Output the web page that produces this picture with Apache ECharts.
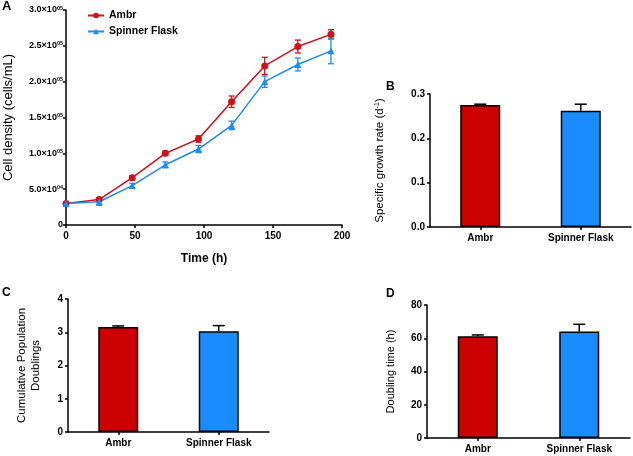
<!DOCTYPE html>
<html>
<head>
<meta charset="utf-8">
<script src="https://cdn.jsdelivr.net/npm/echarts@6/dist/echarts.min.js"></script>
<style>html,body{margin:0;padding:0;background:#fff;}#c{width:633px;height:456px;}</style>
</head>
<body>
<div id="c"></div>
<script>
// Panel A data
const timeH = [0, 24, 48, 72, 96, 120, 144, 168, 192];
const ambrDensity = [30000, 35500, 66000, 100000, 120000, 172000, 222000, 249000, 266000];
const ambrDensityErr = [1000, 1500, 3000, 3000, 4500, 8000, 12000, 9000, 6500];
const spinnerDensity = [30000, 32500, 55000, 84000, 106000, 139000, 200000, 224000, 243000];
const spinnerDensityErr = [1000, 5000, 3000, 4000, 5000, 6000, 8000, 9000, 18000];
const densityTicks = [0, 50000, 100000, 150000, 200000, 250000, 300000];
// Bar panels
const groups = ['Ambr', 'Spinner Flask'];
const growthRate = [0.275, 0.262];
const growthRateErr = [0.002, 0.015];
const popDoublings = [3.16, 3.03];
const popDoublingsErr = [0.03, 0.17];
const doublingTime = [61.2, 64.0];
const doublingTimeErr = [0.8, 4.4];

const RED = '#d0101a', BLUE = '#1e8cf0';
const BAR_RED = '#cc0000', BAR_BLUE = '#1a8cff';
const FONT = 'Liberation Sans, Arial, sans-serif';

function sciLabel(v) {
  if (v === 0) return '0';
  const e = Math.floor(Math.log10(v));
  const m = v / Math.pow(10, e);
  return '{m|' + m.toFixed(1) + '×10}{s|' + String(e).padStart(2, '0') + '}';
}

const axisLine = {show: true, lineStyle: {color: '#000', width: 1.5}};
const axisTick = {show: true, length: 3, lineStyle: {color: '#000', width: 1.5}};
const tickFont = {color: '#000', fontFamily: FONT, fontWeight: 'bold', fontSize: 10};
const titleFont = {color: '#000', fontFamily: FONT, fontSize: 11};

function lineErr(vals, errs, color, xi, yi) {
  return {
    type: 'custom', xAxisIndex: xi, yAxisIndex: yi, z: 3,
    data: timeH.map((t, i) => [t, vals[i], errs[i]]),
    renderItem: function (params, api) {
      const x = api.value(0), y = api.value(1), e = api.value(2);
      const top = api.coord([x, y + e]);
      const bot = api.coord([x, y - e]);
      const h = 3;
      const st = {stroke: color, lineWidth: 1.3};
      return {type: 'group', children: [
        {type: 'line', shape: {x1: top[0], y1: top[1], x2: bot[0], y2: bot[1]}, style: st},
        {type: 'line', shape: {x1: top[0] - h, y1: top[1], x2: top[0] + h, y2: top[1]}, style: st},
        {type: 'line', shape: {x1: bot[0] - h, y1: bot[1], x2: bot[0] + h, y2: bot[1]}, style: st}
      ]};
    }
  };
}

function barErr(vals, errs, xi, yi) {
  return {
    type: 'custom', xAxisIndex: xi, yAxisIndex: yi, z: 4,
    data: vals.map((v, i) => [i, v, errs[i]]),
    renderItem: function (params, api) {
      const x = api.value(0), y = api.value(1), e = api.value(2);
      const top = api.coord([x, y + e]);
      const base = api.coord([x, y]);
      const h = 6;
      const st = {stroke: '#000', lineWidth: 1.5};
      return {type: 'group', children: [
        {type: 'line', shape: {x1: base[0], y1: base[1], x2: top[0], y2: top[1]}, style: st},
        {type: 'line', shape: {x1: top[0] - h, y1: top[1], x2: top[0] + h, y2: top[1]}, style: st}
      ]};
    }
  };
}

function barSeries(vals, xi, yi) {
  return {
    type: 'bar', xAxisIndex: xi, yAxisIndex: yi, barWidth: 40, z: 2,
    data: vals.map((v, i) => ({value: v, itemStyle: {color: i === 0 ? BAR_RED : BAR_BLUE}})),
    itemStyle: {borderColor: '#000', borderWidth: 1.5}
  };
}

function catAxis(gi) {
  return {
    type: 'category', gridIndex: gi, data: groups,
    axisLine: axisLine, axisTick: {show: true, alignWithLabel: true, length: 3, lineStyle: {color: '#000', width: 1.5}},
    axisLabel: Object.assign({margin: 6, fontSize: 10.5}, tickFont)
  };
}

function valAxis(gi, min, max, interval, name, gap, dec, rich, fs) {
  const o = {
    type: 'value', gridIndex: gi, min: min, max: max, interval: interval,
    splitLine: {show: false}, axisLine: axisLine, axisTick: axisTick,
    axisLabel: Object.assign({margin: 5, formatter: v => dec == null ? String(v) : v.toFixed(dec)}, tickFont),
    name: name, nameLocation: 'middle', nameGap: gap, nameRotate: 90,
    nameTextStyle: Object.assign({}, titleFont, {fontSize: fs || 11, lineHeight: 14})
  };
  if (rich) o.nameTextStyle.rich = rich;
  return o;
}

const chart = echarts.init(document.getElementById('c'));
chart.setOption({
  animation: false,
  backgroundColor: '#fff',
  textStyle: {fontFamily: FONT},
  grid: [
    {left: 66, top: 10, width: 276, height: 215},
    {left: 430, top: 94, width: 201, height: 133},
    {left: 68, top: 299, width: 201, height: 133},
    {left: 427, top: 305, width: 203, height: 133}
  ],
  legend: {
    left: 82, top: 5, orient: 'vertical', itemWidth: 16, itemHeight: 7, itemGap: 5,
    textStyle: {fontFamily: FONT, fontWeight: 'bold', fontSize: 10.5, color: '#000'},
    data: ['Ambr', 'Spinner Flask']
  },
  xAxis: [
    {type: 'value', gridIndex: 0, min: 0, max: 200, interval: 50,
     splitLine: {show: false}, axisLine: axisLine, axisTick: axisTick,
     axisLabel: Object.assign({margin: 6}, tickFont),
     name: 'Time (h)', nameLocation: 'middle', nameGap: 28,
     nameTextStyle: {color: '#000', fontFamily: FONT, fontWeight: 'bold', fontSize: 12}},
    catAxis(1), catAxis(2), catAxis(3)
  ],
  yAxis: [
    {type: 'value', gridIndex: 0, min: 0, max: 300000, interval: 50000,
     splitLine: {show: false}, axisLine: axisLine, axisTick: axisTick,
     axisLabel: {margin: 3, formatter: sciLabel, color: '#000', fontFamily: FONT, fontWeight: 'bold', fontSize: 9,
       rich: {m: {fontFamily: FONT, fontWeight: 'bold', fontSize: 9, color: '#000', lineHeight: 10},
              s: {fontFamily: FONT, fontWeight: 'bold', fontSize: 5.5, color: '#000', lineHeight: 6, verticalAlign: 'top'}}},
     name: 'Cell density (cells/mL)', nameLocation: 'middle', nameGap: 51, nameRotate: 90,
     nameTextStyle: {color: '#000', fontFamily: FONT, fontSize: 13}},
    valAxis(1, 0, 0.3, 0.1, '{a|Specific growth rate (d}{s|-1}{a|)}', 44, 1,
      {a: {fontFamily: FONT, fontSize: 11.5, color: '#000', lineHeight: 12},
       s: {fontFamily: FONT, fontSize: 7, color: '#000', lineHeight: 7, verticalAlign: 'top'}}, 11.5),
    valAxis(2, 0, 4, 1, 'Cumulative Population\nDoublings', 25, null, null, 11.5),
    valAxis(3, 0, 80, 20, 'Doubling time (h)', 29, null)
  ],
  series: [
    {name: 'Ambr', type: 'line', xAxisIndex: 0, yAxisIndex: 0, z: 5,
     data: timeH.map((t, i) => [t, ambrDensity[i]]),
     symbol: 'circle', symbolSize: 7, color: RED,
     lineStyle: {color: RED, width: 1.5}, itemStyle: {color: RED}},
    {name: 'Spinner Flask', type: 'line', xAxisIndex: 0, yAxisIndex: 0, z: 5,
     data: timeH.map((t, i) => [t, spinnerDensity[i]]),
     symbol: 'triangle', symbolSize: 7, color: BLUE,
     lineStyle: {color: BLUE, width: 1.5}, itemStyle: {color: BLUE}},
    lineErr(ambrDensity, ambrDensityErr, RED, 0, 0),
    lineErr(spinnerDensity, spinnerDensityErr, BLUE, 0, 0),
    barSeries(growthRate, 1, 1), barErr(growthRate, growthRateErr, 1, 1),
    barSeries(popDoublings, 2, 2), barErr(popDoublings, popDoublingsErr, 2, 2),
    barSeries(doublingTime, 3, 3), barErr(doublingTime, doublingTimeErr, 3, 3)
  ],
  graphic: [
    {type: 'text', left: 2, top: 0, style: {text: 'A', fontFamily: FONT, fontWeight: 'bold', fontSize: 13, fill: '#000'}},
    {type: 'text', left: 386, top: 81, style: {text: 'B', fontFamily: FONT, fontWeight: 'bold', fontSize: 12, fill: '#000'}},
    {type: 'text', left: 2, top: 287, style: {text: 'C', fontFamily: FONT, fontWeight: 'bold', fontSize: 12, fill: '#000'}},
    {type: 'text', left: 386, top: 288, style: {text: 'D', fontFamily: FONT, fontWeight: 'bold', fontSize: 12, fill: '#000'}}
  ]
});
</script>
</body>
</html>
